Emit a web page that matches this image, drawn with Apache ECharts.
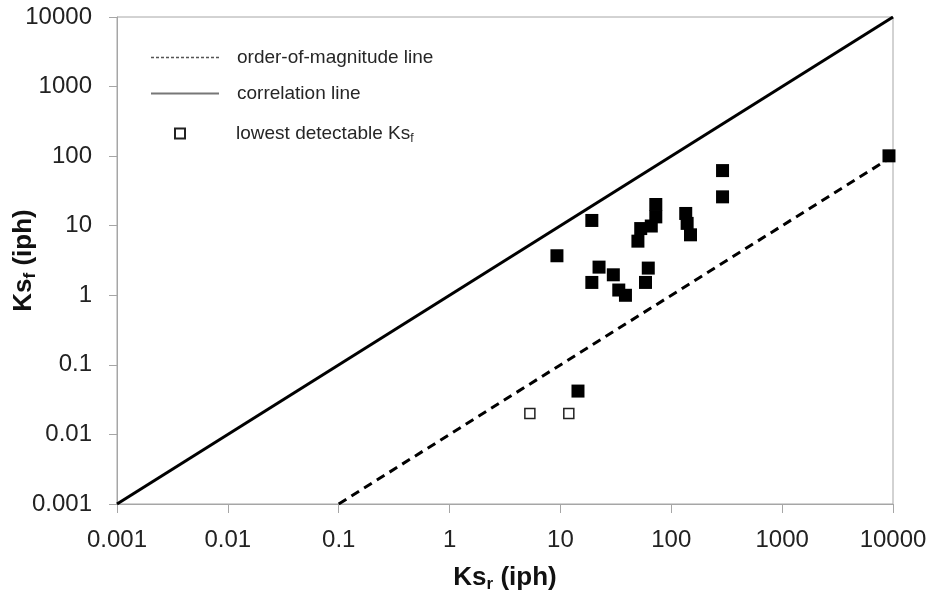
<!DOCTYPE html>
<html>
<head>
<meta charset="utf-8">
<script src="https://cdn.jsdelivr.net/npm/echarts@6/dist/echarts.min.js"></script>
<style>
  html, body { margin: 0; padding: 0; background: #fff; }
</style>
</head>
<body>
<div id="main" style="width: 931px;height:596px;"></div>
<script type="text/javascript">
    // measured points: Ks_r (x) vs Ks_f (y), both in iph
    var ksR = [290, 290, 72.5, 72.5, 66, 53, 50, 19.2, 9.3, 22.3, 19.2, 30, 33.6, 38.6, 62, 58.5, 135, 139, 149, 14.4, 9200];
    var ksF = [62, 26, 20.2, 13.4, 9.9, 9.1, 6.0, 11.9, 3.7, 2.54, 1.53, 1.97, 1.19, 1.0, 2.46, 1.53, 15.0, 10.8, 7.4, 0.042, 101];

    // points at the lowest detectable Ks_f
    var lowR = [5.3, 11.9];
    var lowF = [0.02, 0.02];

    // reference lines
    var corrX = [0.001, 10000];
    var corrY = [0.001, 10000];
    var oomX = [0.1, 10000];
    var oomY = [0.001, 100];

    var tickLabels = ['0.001', '0.01', '0.1', '1', '10', '100', '1000', '10000'];

    function pairs(xs, ys) {
        var out = [];
        for (var i = 0; i < xs.length; i++) out.push([xs[i], ys[i]]);
        return out;
    }
    function tickText(v) {
        var i = Math.round(Math.log(v) / Math.LN10) + 3;
        return tickLabels[i] !== undefined ? tickLabels[i] : '';
    }

    var font = 'Liberation Sans, Arial, sans-serif';
    var gray = '#a6a6a6';
    var legendRich = {
        t: { fontSize: 19, color: '#262626', fontFamily: font, lineHeight: 22 },
        s: { fontSize: 12, color: '#262626', fontFamily: font, verticalAlign: 'bottom', lineHeight: 16 }
    };
    var titleRich = {
        a: { fontSize: 26, fontWeight: 'bold', color: '#111', fontFamily: font, lineHeight: 30 },
        b: { fontSize: 17, fontWeight: 'bold', color: '#111', fontFamily: font, verticalAlign: 'bottom', lineHeight: 22 }
    };

    var myChart = echarts.init(document.getElementById('main'));

    var option = {
        animation: false,
        textStyle: { fontFamily: font },
        grid: {
            left: 117,
            right: 38,
            top: 17,
            bottom: 92,
            outerBoundsMode: 'none',
            containLabel: false,
            show: true,
            borderColor: gray,
            borderWidth: 1
        },
        legend: [
            {
                orient: 'vertical',
                left: 145,
                top: 43,
                itemWidth: 68,
                itemHeight: 11,
                itemGap: 17,
                data: [
                    { name: 'oom', lineStyle: { width: 1.5, type: [3, 2], color: '#555' } },
                    { name: 'corr', lineStyle: { width: 2, color: '#777' } }
                ],
                formatter: function (name) {
                    return name === 'oom' ? '{t|order-of-magnitude line}' : '{t|correlation line}';
                },
                textStyle: { padding: [0, 0, 0, 13], rich: legendRich }
            },
            {
                orient: 'vertical',
                left: 169,
                top: 119,
                itemWidth: 10,
                itemHeight: 10,
                data: ['low'],
                formatter: function () {
                    return '{t|lowest detectable Ks}{s|f}';
                },
                textStyle: { padding: [0, 0, 0, 46], rich: legendRich }
            }
        ],
        xAxis: {
            type: 'log',
            logBase: 10,
            min: 0.001,
            max: 10000,
            splitLine: { show: false },
            axisLine: { lineStyle: { color: gray, width: 1 } },
            axisTick: { length: 9, lineStyle: { color: gray } },
            axisLabel: {
                margin: 24,
                fontSize: 24,
                color: '#222',
                formatter: tickText
            },
            name: '{a|Ks}{b|r}{a| (iph)}',
            nameLocation: 'middle',
            nameGap: 59,
            nameMoveOverlap: false,
            nameTextStyle: { rich: titleRich }
        },
        yAxis: {
            type: 'log',
            logBase: 10,
            min: 0.001,
            max: 10000,
            splitLine: { show: false },
            axisLine: { lineStyle: { color: gray, width: 1 } },
            axisTick: { length: 8, lineStyle: { color: gray } },
            axisLabel: {
                margin: 25,
                fontSize: 24,
                color: '#222',
                formatter: tickText
            },
            name: '{a|Ks}{b|f}{a| (iph)}',
            nameLocation: 'middle',
            nameGap: 78,
            nameMoveOverlap: false,
            nameTextStyle: { rich: titleRich }
        },
        series: [
            {
                name: 'oom',
                type: 'line',
                data: pairs(oomX, oomY),
                symbol: 'none',
                silent: true,
                itemStyle: { color: 'rgba(0,0,0,0)' },
                lineStyle: { color: '#000', width: 3, type: [9, 6] },
                z: 1
            },
            {
                name: 'corr',
                type: 'line',
                data: pairs(corrX, corrY),
                symbol: 'none',
                silent: true,
                itemStyle: { color: 'rgba(0,0,0,0)' },
                lineStyle: { color: '#000', width: 3 },
                z: 1
            },
            {
                name: 'measured',
                type: 'scatter',
                data: pairs(ksR, ksF),
                symbol: 'rect',
                symbolSize: 13,
                itemStyle: { color: '#000', opacity: 1 },
                z: 3
            },
            {
                name: 'low',
                type: 'scatter',
                data: pairs(lowR, lowF),
                symbol: 'rect',
                symbolSize: 10,
                itemStyle: { color: '#fff', borderColor: '#222', borderWidth: 1.5, opacity: 1 },
                z: 3
            }
        ]
    };

    myChart.setOption(option);
</script>
</body>
</html>
